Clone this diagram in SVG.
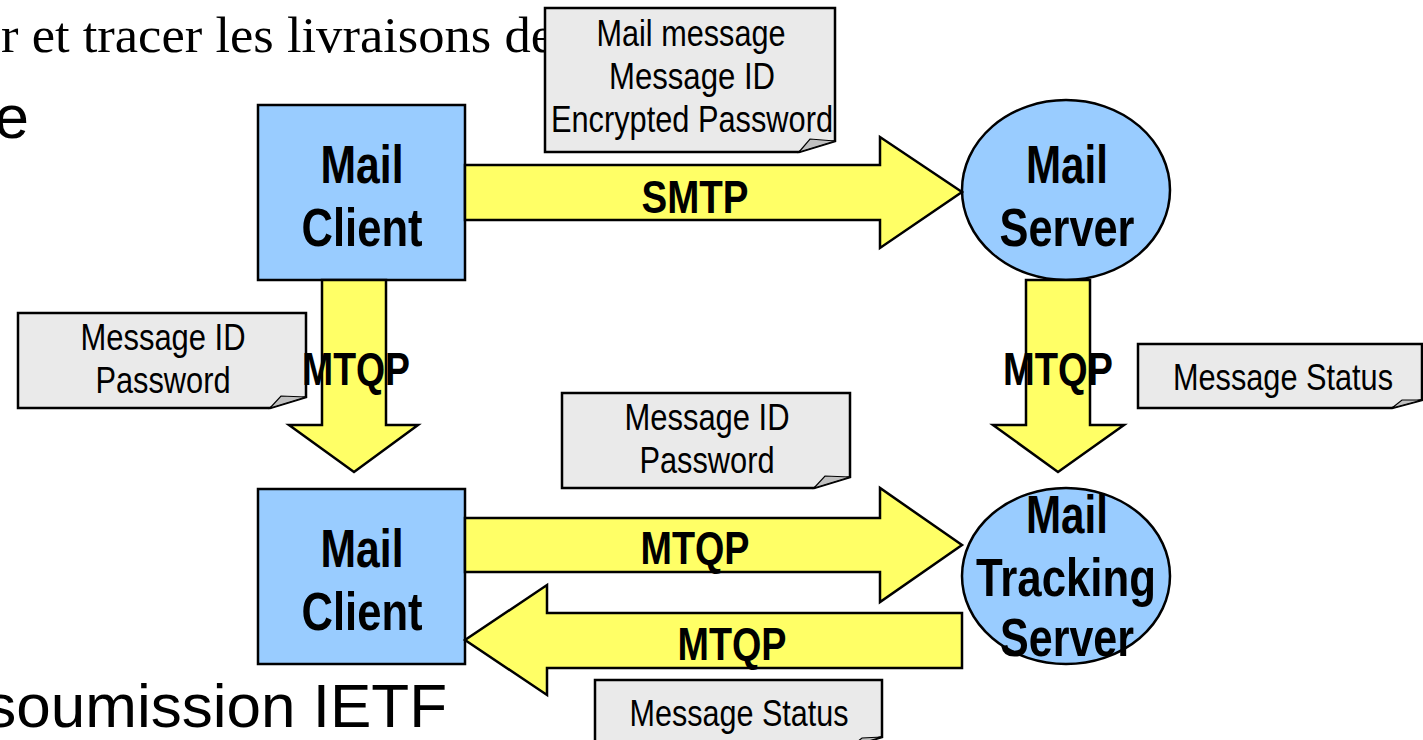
<svg xmlns="http://www.w3.org/2000/svg" width="1423" height="740" viewBox="0 0 1423 740">
<defs>
<style>
.bg-serif{font-family:"Liberation Serif","Times New Roman",serif;font-size:50px;fill:#000}
.bg-sans{font-family:"Liberation Sans",Arial,sans-serif;font-size:62px;fill:#000}
.box{fill:#99ccff;stroke:#000;stroke-width:2.5}
.arrow{fill:#ffff66;stroke:#000;stroke-width:2.5;stroke-linejoin:miter}
.note{fill:#eaeaea;stroke:#000;stroke-width:2.5}
.fold{fill:#c0c0c0;stroke:#000;stroke-width:1.2}
.lbl{font-family:"Liberation Sans",Arial,sans-serif;font-weight:bold;font-size:54px;fill:#000;text-anchor:middle}
.alb{font-family:"Liberation Sans",Arial,sans-serif;font-weight:bold;font-size:46px;fill:#000;text-anchor:middle}
.ntx{font-family:"Liberation Sans",Arial,sans-serif;font-size:36px;fill:#000;text-anchor:middle}
</style>
</defs>
<rect width="1423" height="740" fill="#fff"/>
<g id="background-text">
<text class="bg-serif" x="1" y="52" textLength="553" lengthAdjust="spacingAndGlyphs">r et tracer les livraisons de</text>
<text class="bg-sans" x="29" y="138" text-anchor="end">e</text>
<text class="bg-sans" x="447" y="727" text-anchor="end">soumission IETF</text>
</g>
<g id="note-top">
<path class="note" d="M545,8 H835 V141 L799,152 H545 Z"/>
<path class="fold" d="M799,152 L810,139 L835,141 Z"/>
<text class="ntx" x="691" y="46" textLength="189" lengthAdjust="spacingAndGlyphs">Mail message</text>
<text class="ntx" x="692" y="89" textLength="166" lengthAdjust="spacingAndGlyphs">Message ID</text>
<text class="ntx" x="692" y="132" textLength="282" lengthAdjust="spacingAndGlyphs">Encrypted Password</text>
</g>
<g id="mail-client-top">
<rect class="box" x="258" y="105" width="207" height="175"/>
<text class="lbl" x="362" y="183" textLength="83" lengthAdjust="spacingAndGlyphs">Mail</text>
<text class="lbl" x="362" y="246" textLength="121" lengthAdjust="spacingAndGlyphs">Client</text>
</g>
<g id="mail-server">
<ellipse class="box" cx="1066" cy="190" rx="104" ry="90"/>
<text class="lbl" x="1067" y="183" textLength="82" lengthAdjust="spacingAndGlyphs">Mail</text>
<text class="lbl" x="1067" y="246" textLength="135" lengthAdjust="spacingAndGlyphs">Server</text>
</g>
<g id="mail-client-bottom">
<rect class="box" x="258" y="489" width="207" height="175"/>
<text class="lbl" x="362" y="567" textLength="83" lengthAdjust="spacingAndGlyphs">Mail</text>
<text class="lbl" x="362" y="630" textLength="121" lengthAdjust="spacingAndGlyphs">Client</text>
</g>
<g id="mail-tracking-server">
<ellipse class="box" cx="1066" cy="576" rx="104" ry="88"/>
</g>
<g id="note-left">
<path class="note" d="M18,313 H306 V397 L270,408 H18 Z"/>
<path class="fold" d="M270,408 L281,396 L306,397 Z"/>
<text class="ntx" x="163" y="350" textLength="165" lengthAdjust="spacingAndGlyphs">Message ID</text>
<text class="ntx" x="163" y="393" textLength="135" lengthAdjust="spacingAndGlyphs">Password</text>
</g>
<g id="note-middle">
<path class="note" d="M562,393 H850 V477 L814,488 H562 Z"/>
<path class="fold" d="M814,488 L825,476 L850,477 Z"/>
<text class="ntx" x="707" y="430" textLength="165" lengthAdjust="spacingAndGlyphs">Message ID</text>
<text class="ntx" x="707" y="473" textLength="135" lengthAdjust="spacingAndGlyphs">Password</text>
</g>
<g id="note-right">
<path class="note" d="M1138,344 H1422 V400 L1392,408 H1138 Z"/>
<path class="fold" d="M1392,408 L1402,400 L1422,400 Z"/>
<text class="ntx" x="1283" y="390" textLength="220" lengthAdjust="spacingAndGlyphs">Message Status</text>
</g>
<g id="note-bottom">
<path class="note" d="M595,680 H882 V737 L852,746 H595 Z"/>
<path class="fold" d="M852,746 L862,738 L882,737 Z"/>
<text class="ntx" x="739" y="726" textLength="219" lengthAdjust="spacingAndGlyphs">Message Status</text>
</g>
<g id="connectors">
<path class="arrow" d="M465,165 H880 V137 L962,192 L880,248 V220 H465 Z"/>
<path class="arrow" d="M322,280 V425 H289 L354,472 L418,425 H386 V280 Z"/>
<path class="arrow" d="M1026,280 V425 H993 L1058,472 L1124,425 H1090 V280 Z"/>
<path class="arrow" d="M465,518 H880 V488 L962,545 L880,602 V572 H465 Z"/>
<path class="arrow" d="M962,613 H547 V585 L465,640 L547,695 V668 H962 Z"/>
<text class="alb" x="695" y="213" textLength="107" lengthAdjust="spacingAndGlyphs">SMTP</text>
<text class="alb" x="356" y="385" textLength="108" lengthAdjust="spacingAndGlyphs">MTQP</text>
<text class="alb" x="1058" y="385" textLength="110" lengthAdjust="spacingAndGlyphs">MTQP</text>
<text class="alb" x="695" y="564" textLength="109" lengthAdjust="spacingAndGlyphs">MTQP</text>
<text class="alb" x="732" y="660" textLength="109" lengthAdjust="spacingAndGlyphs">MTQP</text>
</g>
<g id="mail-tracking-server-label">
<text class="lbl" x="1067" y="533" textLength="82" lengthAdjust="spacingAndGlyphs">Mail</text>
<text class="lbl" x="1066" y="596" textLength="180" lengthAdjust="spacingAndGlyphs">Tracking</text>
<text class="lbl" x="1067" y="656" textLength="134" lengthAdjust="spacingAndGlyphs">Server</text>
</g>
</svg>
